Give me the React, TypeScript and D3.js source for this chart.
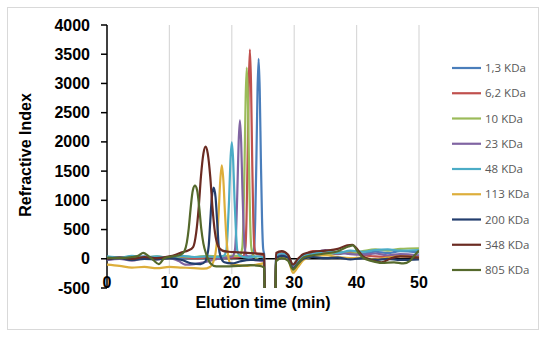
import * as d3 from "d3";

// series names and colours (Excel style palette)
const seriesNames = ["1,3 KDa", "6,2 KDa", "10 KDa", "23 KDa", "48 KDa", "113 KDa", "200 KDa", "348 KDa", "805 KDa"];
const seriesColors = ["#4A7EBB", "#C0504D", "#9BBB59", "#8064A2", "#4BACC6", "#DDAE3B", "#233E6E", "#6B2B22", "#55692C"];

const xTicks = [0, 10, 20, 30, 40, 50];
const yTicks = [-500, 0, 500, 1000, 1500, 2000, 2500, 3000, 3500, 4000];

// [time (min), refractive index]
const s1_3 = [[0,10],[2,30],[4,20],[6,40],[8,20],[10,30],[12,10],[14,20],[16,30],[18,20],[20,30],[22,40],[23.2,40],[23.58,180],[23.76,700],[23.94,1700],[24.12,2870],[24.3,3420],[24.48,2870],[24.66,1700],[24.84,700],[25.02,180],[25.2,60],[25.4,-2200],[26.8,-2200],[27.05,40],[28,80],[29,60],[29.8,-120],[30.6,-40],[31.5,40],[33,70],[35,100],[37,80],[39,110],[41,90],[43,120],[45,100],[47,130],[50,110]];
const s6_2 = [[0,0],[2,20],[4,10],[6,30],[8,10],[10,20],[12,30],[14,10],[16,20],[18,30],[20,20],[21.8,40],[22.18,200],[22.36,700],[22.54,1750],[22.72,3000],[22.9,3580],[23.08,3000],[23.26,1750],[23.44,700],[23.62,200],[23.9,90],[24.5,70],[25.2,40],[25.45,-2200],[26.8,-2200],[27.1,70],[28,100],[29,70],[29.8,-130],[30.6,-30],[31.5,50],[33,130],[35,110],[37,90],[39,120],[41,60],[43,40],[45,30],[47,60],[50,40]];
const s10 = [[0,30],[2,10],[4,40],[6,20],[8,40],[10,10],[12,40],[14,30],[16,50],[18,40],[20,50],[21.3,50],[21.68,190],[21.86,650],[22.04,1600],[22.22,2750],[22.4,3270],[22.58,2750],[22.76,1600],[22.94,650],[23.12,200],[23.45,60],[24.3,-20],[25.2,-60],[25.4,-2200],[26.8,-2200],[27.1,20],[28,60],[29,20],[29.8,-200],[30.6,-80],[31.5,30],[33,100],[35,60],[37,120],[39,90],[41,130],[43,160],[45,140],[47,170],[50,180]];
const s23 = [[0,-20],[2,0],[4,-30],[6,10],[8,-10],[10,10],[11.5,-40],[12.5,-100],[14,-90],[15.5,-60],[17,-20],[19,20],[20.1,40],[20.5,150],[20.7,500],[20.9,1200],[21.1,2000],[21.3,2370],[21.5,2000],[21.7,1200],[21.9,500],[22.1,160],[22.45,40],[23.5,-20],[25.2,-40],[25.4,-2200],[26.8,-2200],[27.1,30],[28,70],[29,40],[29.8,-140],[30.6,-50],[31.5,40],[33,90],[35,150],[37,110],[39,80],[41,70],[43,90],[45,60],[47,80],[50,60]];
const s48 = [[0,40],[2,20],[4,50],[6,30],[8,40],[10,20],[12,50],[14,30],[16,40],[17.5,30],[18.7,50],[19.12,140],[19.34,480],[19.56,1000],[19.78,1680],[20.0,1990],[20.22,1680],[20.44,1000],[20.66,480],[20.88,140],[21.3,50],[22.5,20],[24,40],[25.2,20],[25.4,-2200],[26.8,-2200],[27.1,50],[28,90],[29,60],[29.8,-110],[30.6,-20],[31.5,60],[33,80],[35,130],[37,100],[39,140],[41,120],[43,150],[45,160],[47,140],[50,150]];
const s113 = [[0,-100],[2,-120],[4,-150],[6,-140],[8,-160],[10,-140],[12,-150],[14,-160],[15.5,-170],[16.5,-140],[17.0,-60],[17.4,100],[17.65,340],[17.9,800],[18.15,1340],[18.4,1600],[18.65,1340],[18.9,800],[19.15,340],[19.4,60],[19.8,-80],[21,-110],[22.5,-120],[24,-100],[25.2,-80],[25.4,-2200],[26.8,-2200],[27.1,-20],[28,40],[29,0],[29.8,-240],[30.6,-140],[31.5,-20],[33,40],[35,60],[37,30],[39,10],[41,20],[43,-10],[45,20],[47,40],[50,20]];
const s200 = [[0,-10],[2,10],[4,-20],[6,0],[8,-10],[10,10],[12,-20],[13.5,-80],[15,-90],[15.8,-40],[16.0,30],[16.3,220],[16.55,640],[16.8,1050],[17.1,1220],[17.4,1050],[17.65,640],[17.9,220],[18.2,40],[18.8,-60],[20,-80],[21.5,-40],[23,-20],[25.2,-20],[25.4,-2200],[26.8,-2200],[27.1,10],[28,50],[29,20],[29.8,-170],[30.6,-80],[31.5,0],[33,30],[35,10],[37,20],[39,-10],[41,10],[43,-20],[45,0],[47,-20],[50,-10]];
const s348 = [[0,0],[2,20],[4,0],[6,30],[8,10],[10,40],[11,70],[12,110],[13,140],[13.8,200],[14.3,450],[14.7,880],[15.05,1400],[15.45,1800],[15.8,1920],[16.15,1800],[16.55,1400],[16.9,880],[17.3,450],[17.8,220],[18.5,140],[19.5,120],[21,110],[22.5,100],[24,90],[25.2,80],[25.45,-2200],[26.8,-2200],[27.1,100],[28,130],[29,70],[29.8,-100],[30.6,0],[31.5,80],[33,120],[35,140],[37,170],[38.5,230],[39.3,240],[40.2,150],[41,40],[42.5,-30],[44,-60],[45.5,10],[47,40],[50,20]];
const s805 = [[0,20],[2,10],[4,30],[5,50],[5.8,100],[6.6,50],[7.4,-20],[8.3,-90],[9.2,10],[10.5,40],[11.8,70],[12.4,130],[12.8,280],[13.1,520],[13.4,860],[13.75,1170],[14.1,1250],[14.45,1170],[14.8,860],[15.1,520],[15.45,260],[15.9,80],[16.6,-80],[17.5,-130],[19,-130],[21,-120],[23,-110],[24.5,-120],[25.2,-150],[25.4,-2200],[26.8,-2200],[27.1,-40],[28,10],[29,-30],[29.8,-180],[30.6,-90],[31.5,20],[33,60],[35,90],[37,130],[38.7,210],[39.4,230],[40.2,120],[41,20],[42.5,-40],[44,-70],[46,-60],[47.5,-80],[48.5,-40],[49.3,60],[50,140]];

const seriesData = [s1_3, s6_2, s10, s23, s48, s113, s200, s348, s805];

const W = 550;
const H = 337;
const M = { left: 107, right: 131, top: 25, bottom: 49 };
const FONT = "Arial, 'Liberation Sans', sans-serif";

export default function App() {
  const x = d3.scaleLinear().domain([0, 50]).range([M.left, W - M.right]);
  const y = d3.scaleLinear().domain([-500, 4000]).range([H - M.bottom, M.top]);

  const line = d3
    .line<number[]>()
    .x(d => x(d[0]))
    .y(d => y(d[1]))
    .curve(d3.curveMonotoneX);

  const legendY = d3.scalePoint<string>().domain(seriesNames).range([68, 270]);

  return (
    <svg width={W} height={H} style={{ position: "absolute", left: 0, top: 0, background: "#fff" }}>
      <defs>
        <clipPath id="plot">
          <rect x={x(0)} y={y(4000)} width={x(50) - x(0)} height={y(-500) - y(4000)} />
        </clipPath>
      </defs>
      <rect x={7.5} y={7.5} width={531} height={322} fill="#fff" stroke="#d9d9d9" />

      {/* vertical gridlines */}
      {xTicks.slice(1).map(t => (
        <line key={t} x1={x(t)} x2={x(t)} y1={y(4000)} y2={y(-500) - 14} stroke="#d9d9d9" strokeWidth={1.2} />
      ))}

      {/* y axis */}
      <line x1={x(0)} x2={x(0)} y1={y(4000)} y2={y(-500)} stroke="#000" strokeWidth={1.5} />
      {yTicks.map(t => (
        <g key={t}>
          <line x1={x(0) - 6} x2={x(0)} y1={y(t)} y2={y(t)} stroke="#000" strokeWidth={1.5} />
          <text x={90} y={y(t)} dy="0.35em" textAnchor="end" fontFamily={FONT} fontWeight="bold" fontSize={16} fill="#000">
            {t}
          </text>
        </g>
      ))}

      {/* x axis at zero */}
      <line x1={x(0)} x2={x(50)} y1={y(0)} y2={y(0)} stroke="#000" strokeWidth={1.5} />
      {xTicks.map(t => (
        <text key={t} x={x(t)} y={288} textAnchor="middle" fontFamily={FONT} fontWeight="bold" fontSize={16} fill="#000">
          {t}
        </text>
      ))}

      {/* series */}
      <g clipPath="url(#plot)">
        {seriesData.map((d, i) => (
          <path key={seriesNames[i]} d={line(d) ?? ""} fill="none" stroke={seriesColors[i]} strokeWidth={2.2} />
        ))}
      </g>

      {/* titles */}
      <text x={263} y={308} textAnchor="middle" fontFamily={FONT} fontWeight="bold" fontSize={16} fill="#000">
        Elution time (min)
      </text>
      <text transform="translate(31,155) rotate(-90)" textAnchor="middle" fontFamily={FONT} fontWeight="bold" fontSize={16} fill="#000">
        Refractive Index
      </text>

      {/* legend */}
      {seriesNames.map((n, i) => (
        <g key={n} transform={`translate(0,${legendY(n)})`}>
          <line x1={452} x2={481} y1={0} y2={0} stroke={seriesColors[i]} strokeWidth={2.2} />
          <text x={485} y={0} dy="0.35em" fontFamily="'Open Sans', sans-serif" fontSize={11.5} fill="#595959">
            {n}
          </text>
        </g>
      ))}
    </svg>
  );
}
